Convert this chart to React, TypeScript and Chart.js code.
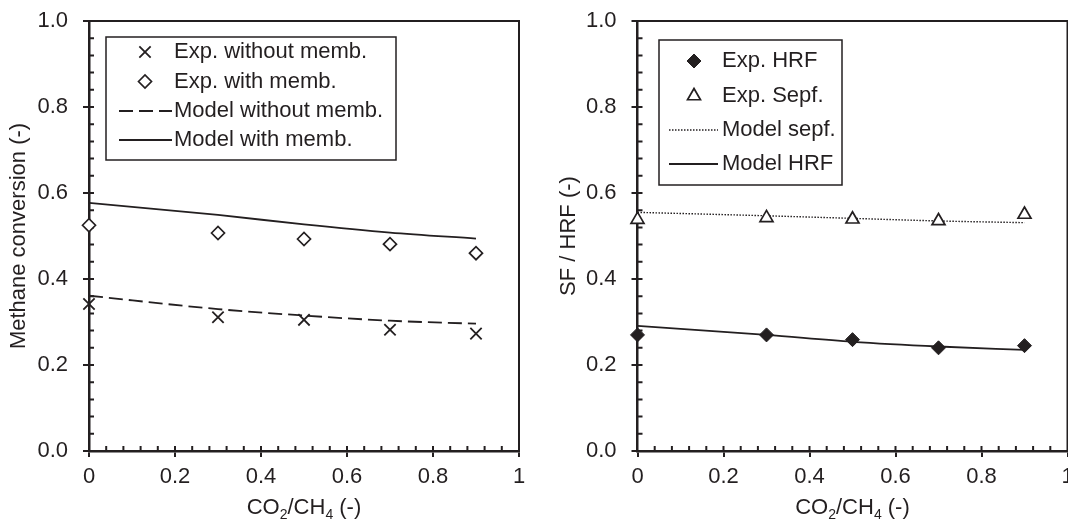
import React, { useEffect, useRef } from 'react';
import { Chart, registerables } from 'chart.js';
import { drawPoint } from 'chart.js/helpers';

Chart.register(...registerables);

const INK = '#231f20';
const FONT_FAMILY = '"Liberation Sans", Arial, Helvetica, sans-serif';

// CO2/CH4 feed ratios
const co2Ratio = [0, 0.3, 0.5, 0.7, 0.9];

// Methane conversion
const expWithoutMemb = [0.342, 0.311, 0.305, 0.282, 0.273];
const expWithMemb = [0.525, 0.507, 0.493, 0.481, 0.46];
const modelWithoutMemb = [0.361, 0.33, 0.315, 0.303, 0.296];
const modelWithMemb = [0.577, 0.549, 0.527, 0.508, 0.494];

// Separation factor / hydrogen recovery fraction
const expHRF = [0.27, 0.27, 0.259, 0.24, 0.245];
const expSepf = [0.538, 0.542, 0.539, 0.535, 0.55];
const modelSepf = [0.555, 0.547, 0.541, 0.535, 0.531];
const modelHRF = [0.291, 0.27, 0.254, 0.243, 0.235];

const xTickValues = [0, 0.2, 0.4, 0.6, 0.8, 1];
const xTickLabels = ['0', '0.2', '0.4', '0.6', '0.8', '1'];
const yTickValues = [0, 0.2, 0.4, 0.6, 0.8, 1];
const yTickLabels = ['0.0', '0.2', '0.4', '0.6', '0.8', '1.0'];

// x title pieces: [text, isSubscript]
const xTitleParts: [string, boolean][] = [
  ['CO', false],
  ['2', true],
  ['/CH', false],
  ['4', true],
  [' (-)', false],
];

const toPoints = (ys: number[]) => co2Ratio.map((x, i) => ({ x, y: ys[i] }));

// Box frame, inward minor ticks and the subscripted x title
const frameTicksPlugin = {
  id: 'frameTicks',
  beforeDatasetsDraw(chart: any) {
    const { ctx, chartArea: a, scales } = chart;
    const xs = scales.x;
    const ys = scales.y;
    ctx.save();
    ctx.strokeStyle = INK;
    ctx.lineWidth = 2;
    ctx.beginPath();
    ctx.moveTo(a.left, a.top);
    ctx.lineTo(a.right, a.top);
    ctx.lineTo(a.right, a.bottom);
    ctx.stroke();

    ctx.beginPath();
    for (let i = 1; i < 25; i++) {
      const v = i * 0.04;
      const px = xs.getPixelForValue(v);
      ctx.moveTo(px, a.bottom);
      ctx.lineTo(px, a.bottom - 5);
      const py = ys.getPixelForValue(v);
      ctx.moveTo(a.left, py);
      ctx.lineTo(a.left + 5, py);
    }
    ctx.stroke();
    ctx.restore();
  },
  afterDraw(chart: any, _args: any, opts: any) {
    const { ctx, chartArea: a } = chart;
    ctx.save();
    ctx.fillStyle = INK;
    ctx.textBaseline = 'alphabetic';
    ctx.textAlign = 'left';
    const mainFont = `22px ${FONT_FAMILY}`;
    const subFont = `14px ${FONT_FAMILY}`;
    let total = 0;
    for (const [t, sub] of xTitleParts) {
      ctx.font = sub ? subFont : mainFont;
      total += ctx.measureText(t).width;
    }
    let cx = (a.left + a.right) / 2 - total / 2;
    for (const [t, sub] of xTitleParts) {
      ctx.font = sub ? subFont : mainFont;
      ctx.fillText(t, cx, opts.titleBaseline + (sub ? 5 : 0));
      cx += ctx.measureText(t).width;
    }
    ctx.restore();
  },
};

// Framed legend with markers and line samples
const boxLegendPlugin = {
  id: 'boxLegend',
  afterDraw(chart: any, _args: any, opts: any) {
    const { ctx } = chart;
    const [bx0, by0, bx1, by1] = opts.box;
    ctx.save();
    ctx.fillStyle = '#ffffff';
    ctx.fillRect(bx0, by0, bx1 - bx0, by1 - by0);
    ctx.strokeStyle = INK;
    ctx.lineWidth = 1.5;
    ctx.strokeRect(bx0, by0, bx1 - bx0, by1 - by0);
    chart.data.datasets.forEach((ds: any, i: number) => {
      const yRow = opts.rows[i];
      ctx.save();
      ctx.strokeStyle = ds.borderColor;
      ctx.lineWidth = ds.borderWidth;
      if (ds.showLine) {
        ctx.setLineDash(ds.borderDash || []);
        ctx.beginPath();
        ctx.moveTo(opts.sample[0], yRow);
        ctx.lineTo(opts.sample[1], yRow);
        ctx.stroke();
      } else {
        ctx.fillStyle = ds.backgroundColor;
        drawPoint(
          ctx,
          { pointStyle: ds.pointStyle, radius: ds.pointRadius, borderWidth: ds.borderWidth, rotation: 0 } as any,
          opts.markerX,
          yRow
        );
      }
      ctx.restore();
      ctx.fillStyle = INK;
      ctx.font = `22px ${FONT_FAMILY}`;
      ctx.textBaseline = 'middle';
      ctx.textAlign = 'left';
      ctx.fillText(ds.label, opts.textX, yRow);
    });
    ctx.restore();
  },
};

function buildScales(yTitle: string, yTitlePad: number, yWidth: number) {
  return {
    x: {
      type: 'linear',
      min: 0,
      max: 1,
      afterBuildTicks: (s: any) => {
        s.ticks = xTickValues.map((value) => ({ value }));
      },
      afterFit: (s: any) => {
        s.height = 70;
        s.paddingLeft = 0;
        s.paddingRight = 0;
      },
      ticks: {
        callback: (_v: any, i: number) => xTickLabels[i],
        padding: 7,
        color: INK,
        font: { size: 22 },
        maxRotation: 0,
        autoSkip: false,
      },
      grid: { drawOnChartArea: false, drawTicks: true, tickLength: 6, color: INK, lineWidth: 2 },
      border: { display: true, color: INK, width: 2.5 },
      title: { display: false },
    },
    y: {
      type: 'linear',
      min: 0,
      max: 1,
      afterBuildTicks: (s: any) => {
        s.ticks = yTickValues.map((value) => ({ value }));
      },
      afterFit: (s: any) => {
        s.width = yWidth;
        s.paddingTop = 0;
        s.paddingBottom = 0;
      },
      ticks: {
        callback: (_v: any, i: number) => yTickLabels[i],
        padding: 15,
        color: INK,
        font: { size: 22 },
        autoSkip: false,
      },
      grid: { drawOnChartArea: false, drawTicks: true, tickLength: 6, color: INK, lineWidth: 2 },
      border: { display: true, color: INK, width: 2.5 },
      title: {
        display: true,
        text: yTitle,
        color: INK,
        font: { size: 22 },
        padding: { top: yTitlePad, bottom: 0 },
      },
    },
  };
}

function conversionConfig(): any {
  return {
    type: 'scatter',
    data: {
      datasets: [
        {
          label: 'Exp. without memb.',
          data: toPoints(expWithoutMemb),
          showLine: false,
          pointStyle: 'crossRot',
          pointRadius: 8,
          borderColor: INK,
          backgroundColor: INK,
          borderWidth: 1.8,
          clip: false,
        },
        {
          label: 'Exp. with memb.',
          data: toPoints(expWithMemb),
          showLine: false,
          pointStyle: 'rectRot',
          pointRadius: 6.5,
          borderColor: INK,
          backgroundColor: '#ffffff',
          borderWidth: 1.7,
          clip: false,
        },
        {
          label: 'Model without memb.',
          data: toPoints(modelWithoutMemb),
          showLine: true,
          pointRadius: 0,
          borderColor: INK,
          borderWidth: 1.8,
          borderDash: [14, 6],
          cubicInterpolationMode: 'monotone',
        },
        {
          label: 'Model with memb.',
          data: toPoints(modelWithMemb),
          showLine: true,
          pointRadius: 0,
          borderColor: INK,
          borderWidth: 1.8,
          cubicInterpolationMode: 'monotone',
        },
      ],
    },
    options: {
      responsive: false,
      animation: false,
      devicePixelRatio: 1,
      layout: { padding: { left: 0, top: 21, right: 15, bottom: 0 } },
      scales: buildScales('Methane conversion (-)', 6, 89),
      plugins: {
        legend: { display: false },
        tooltip: { enabled: false },
        frameTicks: { titleBaseline: 514 },
        boxLegend: {
          box: [106, 37, 396, 160],
          markerX: 145,
          textX: 174,
          sample: [119, 172],
          rows: [52, 81.5, 111, 140],
        },
      },
    },
    plugins: [frameTicksPlugin, boxLegendPlugin],
  };
}

function recoveryConfig(): any {
  return {
    type: 'scatter',
    data: {
      datasets: [
        {
          label: 'Exp. HRF',
          data: toPoints(expHRF),
          showLine: false,
          pointStyle: 'rectRot',
          pointRadius: 7,
          borderColor: INK,
          backgroundColor: INK,
          borderWidth: 1,
          clip: false,
        },
        {
          label: 'Exp. Sepf.',
          data: toPoints(expSepf),
          showLine: false,
          pointStyle: 'triangle',
          pointRadius: 7.5,
          borderColor: INK,
          backgroundColor: '#ffffff',
          borderWidth: 1.7,
          clip: false,
        },
        {
          label: 'Model sepf.',
          data: toPoints(modelSepf),
          showLine: true,
          pointRadius: 0,
          borderColor: INK,
          borderWidth: 1.4,
          borderDash: [1.5, 1.5],
          cubicInterpolationMode: 'monotone',
        },
        {
          label: 'Model HRF',
          data: toPoints(modelHRF),
          showLine: true,
          pointRadius: 0,
          borderColor: INK,
          borderWidth: 1.8,
          cubicInterpolationMode: 'monotone',
        },
      ],
    },
    options: {
      responsive: false,
      animation: false,
      devicePixelRatio: 1,
      layout: { padding: { left: 0, top: 21, right: 16.5, bottom: 0 } },
      scales: buildScales('SF / HRF (-)', 22, 103.5),
      plugins: {
        legend: { display: false },
        tooltip: { enabled: false },
        frameTicks: { titleBaseline: 514 },
        boxLegend: {
          box: [125, 40, 308, 185],
          markerX: 160,
          textX: 188,
          sample: [135, 184],
          rows: [61, 96, 130, 164],
        },
      },
    },
    plugins: [frameTicksPlugin, boxLegendPlugin],
  };
}

function Panel({ left, width, makeConfig }: { left: number; width: number; makeConfig: () => any }) {
  const ref = useRef<HTMLCanvasElement>(null);
  useEffect(() => {
    const chart = new Chart(ref.current as HTMLCanvasElement, makeConfig());
    return () => chart.destroy();
  }, [makeConfig]);
  return (
    <canvas
      ref={ref}
      width={width}
      height={521}
      style={{ position: 'absolute', left, top: 0, width, height: 521, display: 'block' }}
    />
  );
}

Chart.defaults.font.family = FONT_FAMILY;
Chart.defaults.color = INK;

export default function App() {
  return (
    <div
      style={{
        position: 'absolute',
        left: 0,
        top: 0,
        width: 1068,
        height: 521,
        background: '#ffffff',
        overflow: 'hidden',
      }}
    >
      <Panel left={0} width={534} makeConfig={conversionConfig} />
      <Panel left={534} width={550} makeConfig={recoveryConfig} />
    </div>
  );
}
